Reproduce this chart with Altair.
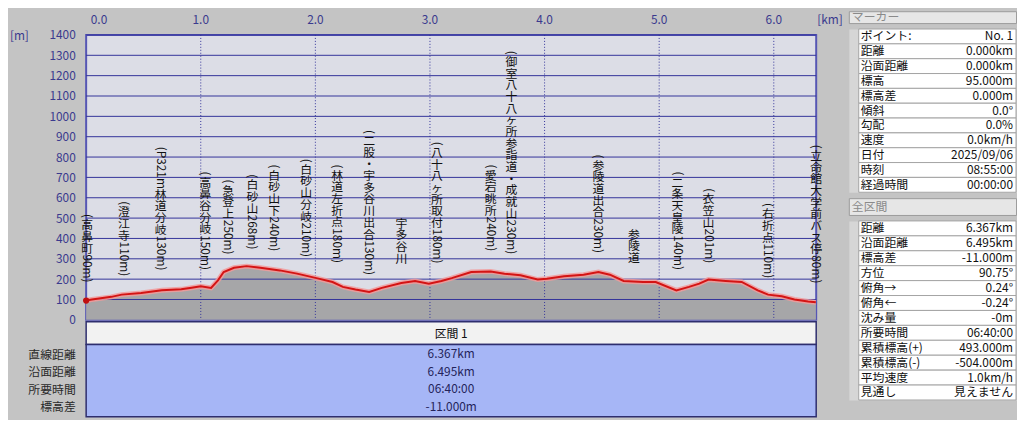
import altair as alt
import pandas as pd

FONT = "Noto Sans CJK JP"

# ---------------- data ----------------
PROFILE_KM = [0.00, 0.05, 0.22, 0.31, 0.48, 0.66, 0.83, 0.92, 1.00, 1.09, 1.15, 1.20,
              1.29, 1.40, 1.52, 1.69, 1.84, 2.01, 2.15, 2.24, 2.35, 2.47, 2.58, 2.75,
              2.87, 2.99, 3.10, 3.19, 3.36, 3.53, 3.65, 3.79, 3.94, 4.02, 4.17, 4.34,
              4.47, 4.57, 4.69, 4.86, 4.97, 5.15, 5.26, 5.35, 5.43, 5.58, 5.72, 5.86,
              5.95, 6.07, 6.18, 6.30, 6.367]
PROFILE_M = [95, 100, 113, 124, 132, 145, 150, 158, 165, 157, 194, 235,
             256, 264, 256, 243, 227, 205, 186, 162, 149, 137, 157, 181,
             191, 178, 191, 205, 235, 238, 227, 219, 198, 202, 214, 222,
             235, 222, 191, 186, 186, 145, 162, 178, 198, 191, 186, 145,
             124, 116, 100, 90, 86]

Y_TICKS = [0, 100, 200, 300, 400, 500, 600, 700, 800, 900, 1000, 1100, 1200, 1300, 1400]
GRID_M = [100, 200, 300, 400, 500, 600, 700, 800, 900, 1000, 1100, 1200, 1300, 1400]
KM_TICKS = [0, 1, 2, 3, 4, 5, 6]
KM_TICK_LABELS = ["0.0", "1.0", "2.0", "3.0", "4.0", "5.0", "6.0"]
KM_GRID = [1, 2, 3, 4, 5, 6]
KM_UNIT = "[km]"
M_UNIT = "[m]"

LABEL_TEXT = ["(高鼻町90m)", "(澄江寺110m)", "(P321m林道分岐130m)", "(高鼻谷分岐150m)",
              "(急登上250m)", "(白砂山268m)", "(白砂山下240m)", "(白砂山分岐210m)",
              "(林道左折点180m)", "(二股・宇多谷川出合130m)", "宇多谷川",
              "(八十八ヶ所取付180m)", "(愛宕眺所240m)", "(御室八十八ヶ所参詣道・成就山230m)",
              "(参陵道出合230m)", "参陵道", "(二条天皇陵140m)", "(衣笠山201m)",
              "(右折点110m)", "(立命館大学前バス停80m)"]
LABEL_KM = [0.01, 0.33, 0.65, 1.04, 1.24, 1.45, 1.64, 1.92, 2.19, 2.47, 2.75,
            3.06, 3.53, 3.71, 4.47, 4.78, 5.16, 5.43, 5.95, 6.37]
LABEL_TOP_M = [520, 583, 851, 729, 690, 715, 763, 792, 763, 933, 501,
               875, 763, 1322, 812, 447, 729, 647, 574, 860]

BOTTOM_KEYS = ["直線距離", "沿面距離", "所要時間", "標高差"]
BOTTOM_VALS = ["6.367km", "6.495km", "06:40:00", "-11.000m"]
SECTION_TITLE = "区間 1"

MARKER_KEYS = ["ポイント:", "距離", "沿面距離", "標高", "標高差", "傾斜", "勾配", "速度",
               "日付", "時刻", "経過時間"]
MARKER_VALS = ["No. 1", "0.000km", "0.000km", "95.000m", "0.000m", "0.0°", "0.0%",
               "0.0km/h", "2025/09/06", "08:55:00", "00:00:00"]
TOTAL_KEYS = ["距離", "沿面距離", "標高差", "方位", "俯角→", "俯角←", "沈み量", "所要時間",
              "累積標高(+)", "累積標高(-)", "平均速度", "見通し"]
TOTAL_VALS = ["6.367km", "6.495km", "-11.000m", "90.75°", "0.24°", "-0.24°", "-0m",
              "06:40:00", "493.000m", "-504.000m", "1.0km/h", "見えません"]

# ---------------- layout constants ----------------
W, H = 738, 288
X_MAX = 6.37
Y_MAX = 1400
PX_PER_M = H / Y_MAX
PITCH = 11.8
NAVY = "#3a3a8e"
GRID = "#33339a"

# vertical (tategaki) label layout: CJK chars upright, latin runs rotated
def latin_width(s):
    w = 0.0
    for c in s:
        if c.isdigit():
            w += 6.6
        elif c == "m":
            w += 10.0
        elif c in "()":
            w += 4.4
        elif c == "P":
            w += 7.6
        else:
            w += 6.6
    return w

def is_cjk(c):
    return ord(c) >= 0x2E80

cjk_rows, lat_rows = [], []
for text, km, top in zip(LABEL_TEXT, LABEL_KM, LABEL_TOP_M):
    off = 0.0
    run = ""
    for c in text + "\0":
        if c != "\0" and not is_cjk(c):
            run += c
            continue
        if run:
            lat_rows.append({"lk": km, "ly": top - off / PX_PER_M, "t": run})
            off += latin_width(run) + 1
            run = ""
        if c == "\0":
            break
        cjk_rows.append({"lk": km, "ly": top - (off + PITCH / 2) / PX_PER_M, "t": c})
        off += PITCH

profile_df = pd.DataFrame({"km": PROFILE_KM, "m": PROFILE_M})
hgrid_df = pd.DataFrame({"m": GRID_M})
vgrid_df = pd.DataFrame({"km": KM_GRID})
cjk_df = pd.DataFrame(cjk_rows)
lat_df = pd.DataFrame(lat_rows)
ruler_df = pd.DataFrame({"km": KM_TICKS, "t": KM_TICK_LABELS})

xscale = alt.Scale(domain=[0, X_MAX], nice=False, zero=False)
yscale = alt.Scale(domain=[0, Y_MAX], nice=False)
yaxis = alt.Axis(orient="left", values=Y_TICKS, format="d", ticks=False, domain=False,
                 grid=False, labelPadding=11, labelColor=NAVY, labelFontSize=12,
                 labelFont=FONT, title=M_UNIT, titleX=-68, titleY=1, titleAngle=0,
                 titleAlign="center", titleBaseline="middle", titleColor=NAVY,
                 titleFontSize=12, titleFontWeight="normal", titleFont=FONT)

def X(f):
    return alt.X(f, type="quantitative", scale=xscale, axis=None)

def Y(f):
    return alt.Y(f, type="quantitative", scale=yscale, axis=yaxis)

# ---------------- top ruler (km labels) ----------------
ruler_base = alt.Chart(ruler_df).mark_text(font=FONT, fontSize=12, color=NAVY,
                                           align="center", baseline="middle")
ruler_first = ruler_base.transform_filter("datum.km == 0").mark_text(
    font=FONT, fontSize=12, color=NAVY, align="center", baseline="middle", dx=13
).encode(x=X("km"), y=alt.value(9), text="t:N")
ruler_rest = ruler_base.transform_filter("datum.km > 0").encode(
    x=X("km"), y=alt.value(9), text="t:N")
ruler_unit = alt.Chart(pd.DataFrame({"t": [KM_UNIT]})).mark_text(
    font=FONT, fontSize=12, color=NAVY, align="center", baseline="middle"
).encode(x=alt.value(752), y=alt.value(9), text="t:N")
ruler = alt.layer(ruler_first, ruler_rest, ruler_unit).properties(
    width=W, height=24, view=alt.ViewBackground(fill="transparent", stroke="transparent"))

# ---------------- profile ----------------
area = alt.Chart(profile_df).mark_area(color="#a6a6a8").encode(x=X("km"), y=Y("m"))
hgrid = alt.Chart(hgrid_df).mark_rule(color=GRID, strokeWidth=1).encode(y=Y("m"))
vgrid = alt.Chart(vgrid_df).mark_rule(color=GRID, strokeWidth=1, strokeDash=[1, 2]).encode(x=X("km"))
halo = alt.Chart(profile_df).mark_line(color="#f29a9a", strokeWidth=5, opacity=0.85).encode(x=X("km"), y=Y("m"))
line = alt.Chart(profile_df).mark_line(color="#d41414", strokeWidth=2).encode(x=X("km"), y=Y("m"))
start = alt.Chart(profile_df.head(1)).mark_circle(color="#c01010", size=40, opacity=1).encode(x=X("km"), y=Y("m"))
cjk = alt.Chart(cjk_df).mark_text(font=FONT, fontSize=12, color="#111111", align="center",
                                   baseline="middle").encode(x=X("lk"), y=Y("ly"), text="t:N")
lat = alt.Chart(lat_df).mark_text(font=FONT, fontSize=12, color="#111111", align="left",
                                   baseline="middle", angle=90).encode(x=X("lk"), y=Y("ly"), text="t:N")

profile = alt.layer(area, hgrid, vgrid, halo, line, start, cjk, lat).properties(
    width=W, height=H,
    view=alt.ViewBackground(fill="#dcdde6", stroke="#5656b4", strokeWidth=2))

# ---------------- bottom section table ----------------
sec_hdr = alt.Chart(pd.DataFrame({"t": [SECTION_TITLE]})).mark_text(
    font=FONT, fontSize=12, color="#111111", align="center", baseline="middle"
).encode(x=alt.value(W / 2), y=alt.value(12), text="t:N").properties(
    width=W, height=23, view=alt.ViewBackground(fill="#f2f2f2", stroke="#2e2e6e", strokeWidth=1.5))

bot_df = pd.DataFrame({"k": BOTTOM_KEYS, "v": BOTTOM_VALS})
sec_body = alt.Chart(bot_df).mark_text(
    font=FONT, fontSize=12, color="#24245a", align="center", baseline="middle"
).encode(
    x=alt.value(W / 2),
    y=alt.Y("k:N", sort=None,
            scale=alt.Scale(type="point", domain=BOTTOM_KEYS, padding=0.565),
            axis=alt.Axis(orient="left", title=None, ticks=False, domain=False,
                          labelPadding=11, labelFontSize=12, labelFont=FONT,
                          labelColor="#2a2a2a")),
    text="v:N",
).properties(width=W, height=73,
             view=alt.ViewBackground(fill="#a6b6f6", stroke="#2e2e6e", strokeWidth=1.5))

section = alt.vconcat(sec_hdr, sec_body, spacing=0, bounds="flush")
prof_block = alt.vconcat(profile, section, spacing=2, bounds="flush")
left = alt.vconcat(ruler, prof_block, spacing=0, bounds="flush")

# ---------------- right info panel ----------------
RW = 169

def header(title, h):
    return alt.Chart(pd.DataFrame({"t": [title]})).mark_text(
        font=FONT, fontSize=12, color="#8a8a8a", align="left", baseline="middle"
    ).encode(x=alt.value(3), y=alt.value(h / 2), text="t:N").properties(
        width=RW, height=h, view=alt.ViewBackground(fill="#e6e6e6", stroke="#9c9c9c"))

def table(keys, vals, h):
    df = pd.DataFrame({"k": keys, "v": vals})
    y = alt.Y("k:N", sort=None, axis=None,
              scale=alt.Scale(domain=keys, paddingInner=0, paddingOuter=0))
    rect = alt.Chart(df).mark_rect(fill="white", stroke="#a4a4a4", strokeWidth=1).encode(
        y=y, x=alt.value(10), x2=alt.value(RW))
    kt = alt.Chart(df).mark_text(font=FONT, fontSize=12, color="#111111", align="left",
                                 baseline="middle").encode(y=y, x=alt.value(12), text="k:N")
    vt = alt.Chart(df).mark_text(font=FONT, fontSize=12, color="#111111", align="right",
                                 baseline="middle").encode(y=y, x=alt.value(RW - 3), text="v:N")
    return alt.layer(rect, kt, vt).properties(
        width=RW, height=h, view=alt.ViewBackground(fill="#d6d6d6", stroke="transparent"))

right = alt.vconcat(header("マーカー", 12), table(MARKER_KEYS, MARKER_VALS, 165),
                    header("全区間", 17), table(TOTAL_KEYS, TOTAL_VALS, 181), spacing=4)

chart = alt.hconcat(left, right, spacing=4).configure(
    background="#c4c4c4", font=FONT, padding={"left": 0, "top": 0, "right": 0, "bottom": 0}
).configure_view(stroke="transparent")

chart.save("out.html", embed_options={"renderer": "svg", "actions": False})
